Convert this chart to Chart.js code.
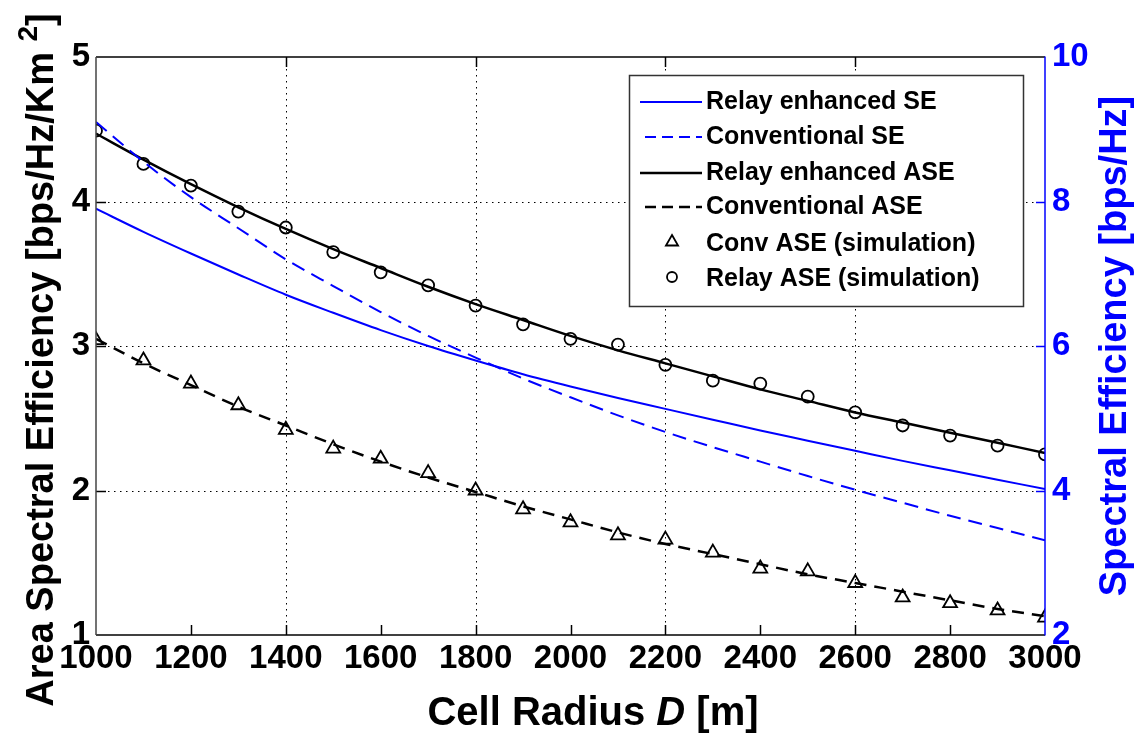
<!DOCTYPE html>
<html><head><meta charset="utf-8">
<script src="https://cdn.jsdelivr.net/npm/chart.js@4.4.1/dist/chart.umd.min.js"></script>
<style>html,body{margin:0;padding:0;background:#fff}canvas{display:block}</style>
</head><body><canvas id="c" width="1147" height="736"></canvas>
<script>
// ---- data ----
const radius = [1000,1100,1200,1300,1400,1500,1600,1700,1800,1900,2000,2100,2200,2300,2400,2500,2600,2700,2800,2900,3000];
const relaySE = [7.90,7.58,7.28,6.99,6.71,6.46,6.22,6.00,5.80,5.61,5.44,5.28,5.13,4.98,4.83,4.69,4.55,4.41,4.28,4.15,4.02];
const convSE  = [9.10,8.55,8.06,7.63,7.20,6.83,6.47,6.14,5.84,5.55,5.29,5.04,4.81,4.60,4.40,4.20,4.01,3.83,3.65,3.48,3.31];
const relayASE = [4.47,4.29,4.12,3.96,3.81,3.67,3.54,3.41,3.29,3.18,3.07,2.97,2.88,2.79,2.70,2.62,2.54,2.47,2.40,2.33,2.26];
const convASE  = [3.05,2.88,2.73,2.58,2.45,2.32,2.20,2.09,1.99,1.89,1.80,1.71,1.63,1.56,1.49,1.42,1.36,1.30,1.24,1.18,1.13];
const convASESim  = [3.04,2.90,2.74,2.59,2.42,2.29,2.22,2.12,2.00,1.87,1.78,1.69,1.66,1.57,1.46,1.44,1.36,1.26,1.22,1.17,1.12];
const relayASESim = [4.49,4.26,4.11,3.93,3.82,3.65,3.51,3.42,3.28,3.15,3.05,3.01,2.87,2.76,2.74,2.65,2.54,2.45,2.38,2.31,2.25];
const xTicksMajor = [1400,1800,2200,2600];
const xTickMinor = [1200,1600,2000,2400,2800];
const yGridLeft = [2,3,4];
const yTicksRight = [4,6,8];
const labels = ['Relay enhanced SE','Conventional SE','Relay enhanced ASE','Conventional ASE','Conv ASE (simulation)','Relay ASE (simulation)'];

const pts = arr => radius.map((r,i)=>({x:r,y:arr[i]}));
const FONT = "'Liberation Sans', Arial, sans-serif";
const BLUE = '#0000ff';

const datasets = [
  {label:labels[0], data:pts(relaySE), yAxisID:'y1', borderColor:BLUE, borderWidth:2, pointRadius:0, fill:false, cubicInterpolationMode:'monotone'},
  {label:labels[1], data:pts(convSE), yAxisID:'y1', borderColor:BLUE, borderWidth:2, borderDash:[14,8], pointRadius:0, fill:false, cubicInterpolationMode:'monotone'},
  {label:labels[2], data:pts(relayASE), yAxisID:'y', borderColor:'#000', borderWidth:2.5, pointRadius:0, fill:false, cubicInterpolationMode:'monotone'},
  {label:labels[3], data:pts(convASE), yAxisID:'y', borderColor:'#000', borderWidth:2.5, borderDash:[12,8], pointRadius:0, fill:false, cubicInterpolationMode:'monotone'},
  {label:labels[4], data:pts(convASESim), yAxisID:'y', showLine:false, pointStyle:'triangle', pointRadius:8, pointBorderColor:'#000', pointBackgroundColor:'rgba(0,0,0,0)', pointBorderWidth:1.8, borderColor:'#000'},
  {label:labels[5], data:pts(relayASESim), yAxisID:'y', showLine:false, pointStyle:'circle', pointRadius:6, pointBorderColor:'#000', pointBackgroundColor:'rgba(0,0,0,0)', pointBorderWidth:1.8, borderColor:'#000'}
];

function line(ctx,x1,y1,x2,y2){ctx.beginPath();ctx.moveTo(x1,y1);ctx.lineTo(x2,y2);ctx.stroke();}

const decor = {
  id:'decor',
  beforeDatasetsDraw(chart){
    const {ctx, chartArea:a, scales:{x,y}} = chart;
    ctx.save();
    ctx.strokeStyle='#000'; ctx.lineWidth=1; ctx.setLineDash([1.5,4.5]);
    xTicksMajor.forEach(v=>{const p=Math.round(x.getPixelForValue(v))+0.5; line(ctx,p,a.top,p,a.bottom);});
    yGridLeft.forEach(v=>{const p=Math.round(y.getPixelForValue(v))+0.5; line(ctx,a.left,p,a.right,p);});
    ctx.restore();
  },
  afterDatasetsDraw(chart){
    const {ctx, chartArea:a, scales:{x,y,y1}} = chart;
    ctx.save();
    ctx.setLineDash([]);
    ctx.strokeStyle='#000'; ctx.lineWidth=1.5;
    xTicksMajor.concat(xTickMinor).forEach(v=>{const p=Math.round(x.getPixelForValue(v))+0.5; line(ctx,p,a.bottom,p,a.bottom-10);});
    xTicksMajor.forEach(v=>{const p=Math.round(x.getPixelForValue(v))+0.5; line(ctx,p,a.top,p,a.top+10);});
    yGridLeft.forEach(v=>{const p=Math.round(y.getPixelForValue(v))+0.5; line(ctx,a.left,p,a.left+10,p);});
    ctx.strokeStyle=BLUE;
    yTicksRight.forEach(v=>{const p=Math.round(y1.getPixelForValue(v))+0.5; line(ctx,a.right,p,a.right-9,p);});
    ctx.lineWidth=1.5;
    ctx.strokeStyle='#000'; line(ctx,a.left,a.top,a.right,a.top); line(ctx,a.left,a.bottom,a.right,a.bottom);
    ctx.strokeStyle='#444'; line(ctx,a.left,a.top,a.left,a.bottom);
    ctx.strokeStyle=BLUE; line(ctx,a.right,a.top-0.5,a.right,a.bottom+0.5);

    // legend
    const bx=629, by=75, bw=394, bh=231;
    ctx.fillStyle='#fff'; ctx.fillRect(bx,by,bw,bh);
    ctx.strokeStyle='#333'; ctx.lineWidth=1.5; ctx.strokeRect(bx+0.5,by+0.5,bw,bh);
    const rows=[102,137,173,207,244,279];
    chart.data.datasets.forEach((ds,i)=>{
      const yy=rows[i];
      if(ds.showLine===false){
        ctx.save(); ctx.setLineDash([]);
        ctx.fillStyle='rgba(0,0,0,0)'; ctx.strokeStyle='#000'; ctx.lineWidth=1.8;
        Chart.helpers.drawPoint(ctx,{pointStyle:ds.pointStyle,rotation:0,borderWidth:1.8,radius:ds.pointStyle==='triangle'?7:5},672,yy-2);
        ctx.restore();
      } else {
        ctx.save(); ctx.strokeStyle=ds.borderColor; ctx.lineWidth=ds.borderWidth;
        if(ds.borderDash){ctx.setLineDash([11,6]); line(ctx,645,yy,702,yy);} else {line(ctx,640,yy,702,yy);}
        ctx.restore();
      }
      ctx.font="bold 25px "+FONT; ctx.textBaseline='middle'; ctx.textAlign='left';
      ctx.fillStyle='#000'; ctx.fillText(ds.label,706,yy);
    });
    ctx.restore();
  },
  afterDraw(chart){
    const {ctx, chartArea:a} = chart;
    ctx.save();
    ctx.fillStyle='#000'; ctx.textBaseline='alphabetic';
    const f1="bold 40px "+FONT, f2="italic bold 40px "+FONT;
    const parts=[["Cell Radius ",f1],["D",f2],[" [m]",f1]];
    let tw=0; parts.forEach(p=>{ctx.font=p[1]; tw+=ctx.measureText(p[0]).width;});
    let sx=593-tw/2;
    parts.forEach(p=>{ctx.font=p[1]; ctx.textAlign='left'; ctx.fillText(p[0],sx,725); sx+=ctx.measureText(p[0]).width;});
    ctx.save();
    ctx.translate(53,360); ctx.rotate(-Math.PI/2);
    const m="bold 38px "+FONT, s="bold 28px "+FONT;
    const lp=[["Area Spectral Efficiency [bps/Hz/Km ",m,0],["2",s,-16],["]",m,0]];
    let lw=0; lp.forEach(p=>{ctx.font=p[1]; lw+=ctx.measureText(p[0]).width;});
    let lx=-lw/2;
    lp.forEach(p=>{ctx.font=p[1]; ctx.textAlign='left'; ctx.fillText(p[0],lx,p[2]); lx+=ctx.measureText(p[0]).width;});
    ctx.restore();
    ctx.save();
    ctx.translate(1126,(a.top+a.bottom)/2); ctx.rotate(-Math.PI/2);
    ctx.font="bold 38px "+FONT; ctx.fillStyle=BLUE; ctx.textAlign='center';
    ctx.fillText("Spectral Efficiency [bps/Hz]",0,0);
    ctx.restore();
    ctx.restore();
  }
};

const tickFont = {family:FONT, size:33, weight:'bold', lineHeight:1.2};
new Chart(document.getElementById('c'),{
  type:'line',
  data:{datasets},
  options:{
    responsive:false, devicePixelRatio:1, animation:false,
    layout:{padding:{top:57,left:0,right:0,bottom:0}},
    plugins:{legend:{display:false}, tooltip:{enabled:false}},
    scales:{
      x:{type:'linear', min:1000, max:3000,
         ticks:{stepSize:200, autoSkip:false, maxRotation:0, color:'#000', font:tickFont, padding:4, callback:v=>String(v)},
         grid:{display:false, drawTicks:false}, border:{display:false},
         afterFit(s){s.height=101;}},
      y:{position:'left', min:1, max:5,
         ticks:{stepSize:1, color:'#000', font:tickFont, padding:6, callback:v=>String(v)},
         grid:{display:false, drawTicks:false}, border:{display:false},
         afterFit(s){s.width=96;}},
      y1:{position:'right', min:2, max:10,
         ticks:{stepSize:2, color:BLUE, font:tickFont, padding:7, callback:v=>String(v)},
         grid:{display:false, drawTicks:false}, border:{display:false},
         afterFit(s){s.width=102;}}
    }
  },
  plugins:[decor]
});
</script></body></html>
